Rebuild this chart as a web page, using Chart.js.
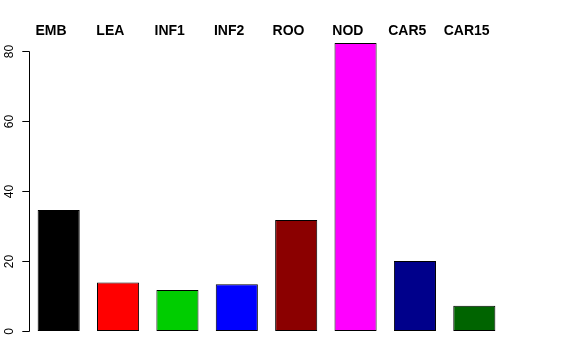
<!DOCTYPE html>
<html>
<head>
<meta charset="utf-8">
<script src="https://cdn.jsdelivr.net/npm/chart.js@4/dist/chart.umd.min.js"></script>
<style>
html,body{margin:0;padding:0;background:#fff;}
#wrap{width:576px;height:360px;}
</style>
</head>
<body>
<div id="wrap"><canvas id="c" width="576" height="360"></canvas></div>
<script>
const categories = ["EMB","LEA","INF1","INF2","ROO","NOD","CAR5","CAR15"];
const values = [34.6, 13.9, 11.7, 13.4, 31.8, 82.4, 20.0, 7.25];
const barColors = ["#000000","#FF0000","#00CD00","#0000FF","#8B0000","#FF00FF","#00008B","#006400"];
const yTicks = [0, 20, 40, 60, 80];

const FONT = "'Liberation Sans', Arial, Helvetica, sans-serif";

const rAxisPlugin = {
  id: 'rAxis',
  afterDraw(chart) {
    const ctx = chart.ctx;
    const y = chart.scales.y;
    const x = chart.scales.x;
    const ax = chart.chartArea.left + 0.5;
    ctx.save();
    ctx.strokeStyle = '#000';
    ctx.lineWidth = 1;
    const yTop = Math.round(y.getPixelForValue(yTicks[yTicks.length-1])) + 0.5;
    const yBot = Math.round(y.getPixelForValue(yTicks[0])) + 0.5;
    ctx.beginPath();
    ctx.moveTo(ax, yTop);
    ctx.lineTo(ax, yBot);
    ctx.stroke();
    ctx.fillStyle = '#000';
    ctx.font = '12px ' + FONT;
    ctx.textAlign = 'center';
    ctx.textBaseline = 'alphabetic';
    yTicks.forEach(v => {
      const py = Math.round(y.getPixelForValue(v)) + 0.5;
      ctx.beginPath();
      ctx.moveTo(ax - 7.2, py);
      ctx.lineTo(ax, py);
      ctx.stroke();
      ctx.save();
      ctx.translate(12.5, py);
      ctx.rotate(-Math.PI/2);
      ctx.fillText(String(v), 0, 0);
      ctx.restore();
    });
    ctx.font = 'bold 14px ' + FONT;
    ctx.textAlign = 'center';
    categories.forEach((c, i) => {
      const px = x.getPixelForValue(i) - 7.7;
      ctx.fillText(c, px, 34.5);
    });
    ctx.restore();
  }
};

new Chart(document.getElementById('c'), {
  type: 'bar',
  data: {
    labels: categories,
    datasets: [{
      data: values,
      backgroundColor: barColors,
      borderColor: '#000000',
      borderWidth: 1,
      borderSkipped: false,
      barPercentage: 0.709,
      categoryPercentage: 1.0
    }]
  },
  options: {
    responsive: false,
    animation: false,
    events: [],
    layout: { padding: { left: 29, right: 72, top: 40, bottom: 29 } },
    plugins: { legend: { display: false }, tooltip: { enabled: false } },
    scales: {
      x: { display: false, grid: { display: false } },
      y: { display: false, min: 0, max: 83.29, grid: { display: false } }
    }
  },
  plugins: [rAxisPlugin]
});
</script>
</body>
</html>
